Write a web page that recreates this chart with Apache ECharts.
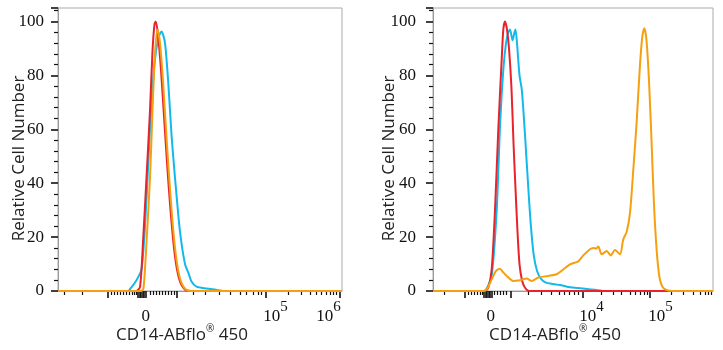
<!DOCTYPE html>
<html>
<head>
<meta charset="utf-8">
<script src="https://cdn.jsdelivr.net/npm/echarts@6/dist/echarts.min.js"></script>
<style>
html,body{margin:0;padding:0;background:#fff}
#main{width:723px;height:350px}
</style>
</head>
<body>
<div id="main"></div>
<script>
// x = display channel of the biexponential axis, y = relative cell number
var redA = [[0,0],[78,0],[82,1.5],[85,18],[88.5,42],[92,67],[94.5,89],[96.5,99],[97.8,100],[100,95],[103,82],[106.5,62],[109.5,45],[112.5,30],[116,16],[119,8],[122.5,3],[127,0.5],[132,0],[284,0]];
var cyanA = [[0,0],[70,0],[72,0.7],[78.5,4],[83.5,8],[87,24],[90.5,49],[93.5,70],[97,86],[100.5,94],[103.5,96.3],[107,92],[110.5,76],[113.5,58],[117,42],[122,22],[127,10],[130.5,6.6],[133.5,3.5],[138.5,1.6],[148.5,0.9],[158.5,0.4],[165,0],[284,0]];
var orangeA = [[0,0],[83,0],[85.5,1],[88.5,18],[92,42],[94.5,67],[97,88],[99.5,97],[102,92],[105,78],[108,60],[111,43],[114,28],[117,16],[120,8],[123.5,3],[128,0.5],[134,0],[284,0]];

var redB = [[0,0],[52,0],[55.3,1.3],[58.7,8],[62,30],[65.3,60],[68.7,86],[70.3,97],[72,100],[74,97],[76,90],[78.5,75],[80.5,55],[82.5,38],[84.5,22],[86.5,10],[89,4],[92,1.2],[96,0],[280,0]];
var cyanB = [[0,0],[51,0],[53.7,0.9],[58.7,5.6],[63.7,30],[67,61],[70.3,82],[73,92],[75.3,96],[77,97],[79.5,93],[81.5,96],[82.5,97],[84,92],[86.5,80],[88.7,75],[90.3,67.5],[92.5,55],[95,40],[97.5,26],[100.5,14],[104,7.5],[108,4.5],[113,3.1],[120,2.6],[127,2.2],[134,1.6],[142,1.2],[150,0.9],[158,0.6],[165,0.3],[172,0],[280,0]];
var orangeB = [[0,0],[50,0],[53.7,0.6],[58.7,4.3],[63,7.5],[67,8.3],[70,7],[73.7,5.6],[80.3,3.7],[87,4],[93.7,4.6],[98.7,3.7],[105.3,5],[115.3,5.6],[123.7,6.2],[130.3,8],[137,9.9],[145.3,11],[150.3,13.2],[157,15.5],[160.3,16],[163,15.7],[165.3,16.5],[168.7,13.6],[173.7,14.8],[177.7,13.2],[182,15.2],[187,13.6],[190.3,19.2],[193.7,22],[197,29],[200.3,45],[203.7,63],[207,84],[209.5,95],[211.3,97.5],[213.5,93],[216,78],[218.5,56],[221,32],[223.7,15],[226.5,5],[229.5,1.5],[234,0.3],[240,0],[280,0]];

var majorA = [49.7,80,81.5,83,84.5,86,87.5,118.7,207.7,281.3];
var minorA = [6.3,24.7,53,56,59,62,65,68,71,74,76.5,78.5,92,95,98,101,104,107,110,113,116,135,147,161,172,182,188.7,195.3,200.3,203.7,230.3,243.7,252,258.7,263.7,268.7,272,275.3,278];
var labelPosA = [87.7,217.5,270.5];
var labelTextA = ['0','10^5','10^6'];

var majorB = [31.7,51,52.5,54,55.5,57,58.5,77.3,149.7,217];
var minorB = [11.7,35,38,41,44,47,49.5,61.5,64.5,67.5,70.5,73.5,95,108,118,126.7,131.7,136.7,141,145,168.7,180.3,188.7,197,202,207,211,214.3,238.7,250.3,260.3,267,272,275.3,278.7];
var labelPosB = [57.7,158.5,227.5];
var labelTextB = ['0','10^4','10^5'];

var yTicks = {min:0, max:105, interval:20};

var colors = {red:'#e8232c', cyan:'#14b9ec', orange:'#f5a00f'};
var serif = 'Liberation Serif';
var sans = 'Open Sans';

function labelFmt(pos, txt){
    return function(v){
        for (var i = 0; i < pos.length; i++) {
            if (Math.abs(pos[i] - v) < 0.01) {
                var p = txt[i].split('^');
                return p.length > 1 ? '{b|' + p[0] + '}{s|' + p[1] + '}' : '{b|' + p[0] + '}';
            }
        }
        return '';
    };
}

function majorAxis(grid, max, ticks, pos, txt){
    return {
        type:'value', gridIndex:grid, min:0, max:max, position:'bottom',
        splitLine:{show:false},
        axisLine:{show:true, lineStyle:{color:'#999', width:1}},
        axisTick:{show:true, customValues:ticks, length:7, lineStyle:{color:'#111', width:1.6}},
        axisLabel:{
            customValues:pos, margin:9, lineHeight:34,
            formatter:labelFmt(pos, txt),
            rich:{
                b:{fontFamily:serif, fontSize:17, color:'#111', lineHeight:34},
                s:{fontFamily:serif, fontSize:15, color:'#111', lineHeight:14, verticalAlign:'top'}
            }
        },
        name:'{t|CD14-ABflo}{r|®}{t| 450}',
        nameLocation:'middle', nameGap:33, nameMoveOverlap:false,
        nameTextStyle:{
            padding:[0,36,0,0],
            rich:{
                t:{fontFamily:sans, fontSize:17, color:'#222', lineHeight:22},
                r:{fontFamily:sans, fontSize:10, color:'#222', lineHeight:10, verticalAlign:'top'}
            }
        }
    };
}

function minorAxis(grid, max, ticks){
    return {
        type:'value', gridIndex:grid, min:0, max:max, position:'bottom',
        splitLine:{show:false},
        axisLine:{show:false},
        axisTick:{show:true, customValues:ticks, length:4, lineStyle:{color:'#111', width:1.2}},
        axisLabel:{show:false}
    };
}

function yAxis(grid, margin, gap){
    return {
        type:'value', gridIndex:grid, min:yTicks.min, max:yTicks.max, interval:yTicks.interval,
        splitLine:{show:false},
        axisLine:{show:true, lineStyle:{color:'#999'}},
        axisTick:{show:true, length:7, lineStyle:{color:'#111', width:1.6}},
        minorTick:{show:true, splitNumber:5, length:4, lineStyle:{color:'#111', width:1.2}},
        axisLabel:{fontFamily:serif, fontSize:17, color:'#111', margin:margin},
        name:'Relative Cell Number',
        nameLocation:'middle', nameGap:gap, nameMoveOverlap:false,
        nameTextStyle:{fontFamily:sans, fontSize:17, color:'#222', padding:[0,18,0,0]}
    };
}

function line(data, color, xi, yi){
    return {
        type:'line', data:data, xAxisIndex:xi, yAxisIndex:yi,
        showSymbol:false, smooth:0.25, silent:true,
        lineStyle:{color:color, width:2}
    };
}

var myChart = echarts.init(document.getElementById('main'));
var option = {
    animation:false,
    grid:[
        {left:58, right:381, top:8, bottom:59, show:true, borderColor:'#aaa', borderWidth:1, outerBoundsMode:'none'},
        {left:433, right:10, top:8, bottom:59, show:true, borderColor:'#aaa', borderWidth:1, outerBoundsMode:'none'}
    ],
    xAxis:[
        majorAxis(0, 284, majorA, labelPosA, labelTextA),
        minorAxis(0, 284, minorA),
        majorAxis(1, 280, majorB, labelPosB, labelTextB),
        minorAxis(1, 280, minorB)
    ],
    yAxis:[yAxis(0, 14, 30), yAxis(1, 17, 35)],
    series:[
        line(cyanA, colors.cyan, 0, 0),
        line(redA, colors.red, 0, 0),
        line(orangeA, colors.orange, 0, 0),
        line(cyanB, colors.cyan, 2, 1),
        line(redB, colors.red, 2, 1),
        line(orangeB, colors.orange, 2, 1)
    ]
};
myChart.setOption(option);
</script>
</body>
</html>
